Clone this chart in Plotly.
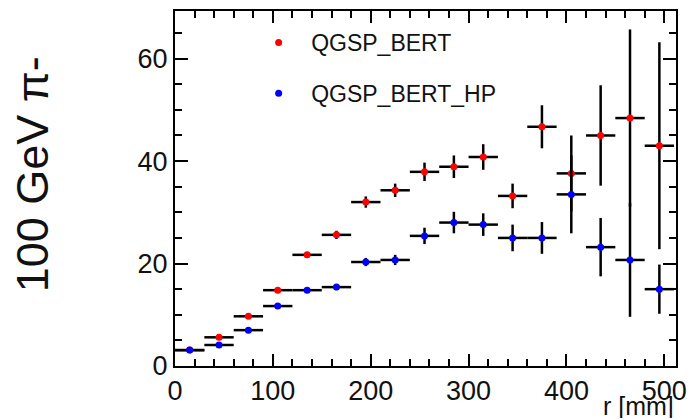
import plotly.graph_objects as go

# bin centres (mm)
r_centres = [15, 45, 75, 105, 135, 165, 195, 225, 255, 285, 315, 345, 375, 405, 435, 465, 495]
bin_half_width = 15

qgsp_bert = [3.1, 5.6, 9.7, 14.8, 21.7, 25.6, 32.0, 34.3, 37.9, 38.9, 40.8, 33.2, 46.7, 37.6, 45.0, 48.4, 43.0]
qgsp_bert_err = [0.2, 0.3, 0.3, 0.4, 0.5, 0.8, 1.1, 1.3, 1.8, 2.2, 2.5, 2.4, 4.2, 7.4, 9.8, 17.3, 20.2]

qgsp_bert_hp = [3.1, 4.1, 7.0, 11.7, 14.8, 15.4, 20.3, 20.7, 25.4, 28.0, 27.6, 25.0, 25.0, 33.5, 23.2, 20.7, 15.0]
qgsp_bert_hp_err = [0.2, 0.2, 0.3, 0.3, 0.3, 0.6, 0.8, 1.0, 1.6, 2.1, 2.2, 2.6, 3.1, 7.6, 5.7, 11.1, 4.8]

x_ticks = [0, 100, 200, 300, 400, 500]
y_ticks = [0, 20, 40, 60]

FONT = "Liberation Sans, Arial, sans-serif"

fig = go.Figure()

def add_series(y, err, color, name, group):
    fig.add_trace(go.Scatter(
        x=r_centres, y=y, mode="markers", name=name,
        legendgroup=group,
        marker=dict(color=color, size=7, symbol="circle"),
        error_x=dict(type="constant", value=bin_half_width, color="black", thickness=2.5, width=0),
        error_y=dict(type="data", array=err, color="black", thickness=2.5, width=0),
    ))

add_series(qgsp_bert, qgsp_bert_err, "#ff0000", "QGSP_BERT", "a")
add_series(qgsp_bert_hp, qgsp_bert_hp_err, "#0000ff", "QGSP_BERT_HP", "b")

axis_common = dict(
    showline=True, linecolor="black", linewidth=2, mirror="allticks",
    ticks="inside", tickcolor="black", tickwidth=2,
    showgrid=False, zeroline=False,
    tickfont=dict(family=FONT, size=27, color="#111"),
)

fig.update_xaxes(range=[0, 512], tickvals=x_ticks, ticklen=12,
                 minor=dict(dtick=20, ticklen=7, tickcolor="black", tickwidth=2, ticks="inside", showgrid=False),
                 **axis_common)
fig.update_yaxes(range=[0, 69.3], tickvals=y_ticks, ticklen=13,
                 minor=dict(dtick=5, ticklen=7, tickcolor="black", tickwidth=2, ticks="inside", showgrid=False),
                 **axis_common)

fig.add_annotation(text="100 GeV π-", xref="paper", yref="paper",
                   x=-0.2834, y=0.54, xanchor="center", yanchor="middle",
                   textangle=-90, showarrow=False, height=40,
                   font=dict(family=FONT, size=45, color="#111"))
fig.add_annotation(text="r [mm]", xref="paper", yref="paper",
                   x=1.0, y=-0.1513, xanchor="right", yanchor="bottom",
                   showarrow=False, height=24,
                   font=dict(family=FONT, size=25, color="#111"))

# page body has an 8px margin, so the figure is sized to fit the window
fig.update_layout(
    width=688, height=412,
    margin=dict(l=167, r=20, t=1, b=54),
    paper_bgcolor="white", plot_bgcolor="white",
    showlegend=True,
    legend=dict(x=0.142, y=0.972, xanchor="left", yanchor="top",
                bgcolor="rgba(0,0,0,0)", traceorder="grouped",
                tracegroupgap=18, itemwidth=55,
                font=dict(family=FONT, size=23, color="#111")),
)

fig.write_html("out.html")
